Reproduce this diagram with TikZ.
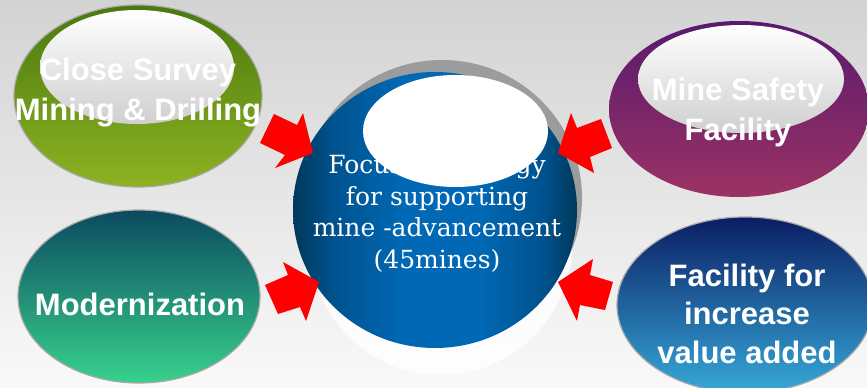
\documentclass[tikz,border=0pt]{standalone}
\usepackage{fontspec}
\setmainfont{Liberation Sans}
\newfontfamily\orbfont{DejaVu Serif}
\usetikzlibrary{shapes.geometric}

\definecolor{bgtop}{HTML}{D3D3D3}
\definecolor{bgbot}{HTML}{F9F9F9}
\definecolor{greentop}{HTML}{4A780E}
\definecolor{greenbot}{HTML}{8DB322}
\definecolor{purptop}{HTML}{581A6E}
\definecolor{purpbot}{HTML}{9C3264}
\definecolor{tealtop}{HTML}{0B4A60}
\definecolor{tealbot}{HTML}{38D28C}
\definecolor{bluetop}{HTML}{0A1E64}
\definecolor{bluebot}{HTML}{36A8D8}
\definecolor{orbdark}{HTML}{00385A}
\definecolor{orbmid}{HTML}{00528E}
\definecolor{orbbright}{HTML}{0068B4}
\definecolor{rimgray}{HTML}{A8A8A8}
\definecolor{shadowgray}{HTML}{9C9C9C}
\definecolor{glossbot}{HTML}{CFCFCF}

\pgfdeclarehorizontalshading{orbshade}{100bp}{%
  color(0bp)=(orbdark); color(25bp)=(orbdark); color(32bp)=(orbmid);
  color(44bp)=(orbbright); color(58bp)=(orbbright); color(69bp)=(orbmid);
  color(75bp)=(orbdark); color(100bp)=(orbdark)}

\tikzset{
  bubble/.style={ellipse, inner sep=0pt, draw=rimgray, line width=1.2pt},
  gloss/.style={ellipse, inner sep=0pt, top color=white, bottom color=glossbot},
  boldlabel/.style={font=\bfseries\fontsize{31}{40}\selectfont, text=white, align=center, inner sep=0pt},
  orblabel/.style={font=\orbfont\fontsize{25}{31.5}\selectfont, text=white, align=center, inner sep=0pt},
  pointer/.style={fill=red}
}

\begin{document}
\begin{tikzpicture}[x=1pt,y=-1pt]
  % backdrop
  \shade[top color=bgtop, bottom color=bgbot] (0,0) rectangle (867,388);
  \useasboundingbox (0,0) rectangle (867,388);

  % central orb: reflection, shadow, body
  \node[ellipse, inner sep=0pt, minimum width=264, minimum height=270,
        fill=white, fill opacity=0.8] (refl) at (441,240) {};
  \node[ellipse, inner sep=0pt, minimum width=280, minimum height=276,
        fill=shadowgray] (shadow) at (442,198) {};
  \node[ellipse, inner sep=0pt, minimum width=284, minimum height=276,
        shading=orbshade] (orb) at (435,210) {};
  % multi-line labels are anchored at the baseline of their last line
  \node[orblabel, anchor=base] (orbtext) at (437,268)
    {Focused strategy\\for supporting\\mine -advancement\\(45mines)};
  \node[ellipse, inner sep=0pt, minimum width=185, minimum height=112,
        fill=white] (orbgloss) at (455.5,131) {};

  % top left bubble
  \node[bubble, minimum width=248, minimum height=182,
        top color=greentop, bottom color=greenbot] (survey) at (138,96) {};
  \node[gloss, minimum width=194, minimum height=114] (surveygloss) at (137,67) {};
  \node[boldlabel, anchor=base] (surveytext) at (138,120) {Close Survey\\Mining \& Drilling};

  % top right bubble
  \node[ellipse, inner sep=0pt, minimum width=260, minimum height=176,
        top color=purptop, bottom color=purpbot] (safety) at (739,109) {};
  \node[gloss, minimum width=206, minimum height=108] (safetygloss) at (741,79) {};
  \node[boldlabel, anchor=base] (safetytext) at (738,140) {Mine Safety\\Facility};

  % bottom left bubble
  \node[bubble, minimum width=242, minimum height=173,
        top color=tealtop, bottom color=tealbot] (modern) at (139,296.5) {};
  \node[boldlabel, anchor=base] (moderntext) at (140,315) {Modernization};

  % bottom right bubble
  \node[bubble, minimum width=256, minimum height=176,
        top color=bluetop, bottom color=bluebot] (value) at (745,305) {};
  \node[boldlabel, anchor=base, font=\bfseries\fontsize{31}{38.5}\selectfont]
    (valuetext) at (747,363) {Facility for\\increase\\value added};

  % red block arrows pointing at the orb
  \fill[pointer] (260,143) -- (274,114) -- (297,125) -- (303,113) -- (313,153)
                 -- (275,168) -- (285,155) -- cycle;
  \fill[pointer] (558,153) -- (571,113) -- (577,128) -- (601,119) -- (612,148)
                 -- (590,157) -- (594,173) -- cycle;
  \fill[pointer] (265,285) -- (288,275) -- (283,262) -- (319,282) -- (306,321)
                 -- (300,307) -- (278,314) -- cycle;
  \fill[pointer] (558,282) -- (593,259) -- (590,275) -- (613,282) -- (605,310)
                 -- (580,305) -- (577,321) -- cycle;
\end{tikzpicture}
\end{document}
